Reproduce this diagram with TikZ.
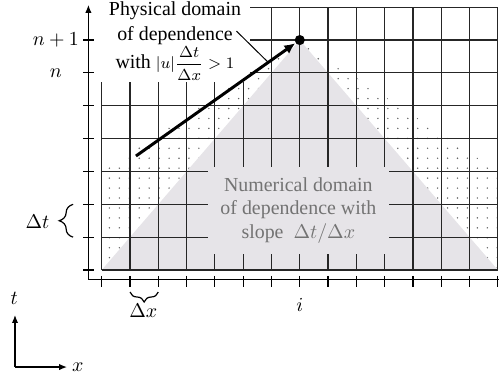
\documentclass[tikz,border=0pt]{standalone}
\usepackage{fontspec}
\setmainfont{Liberation Serif}
\usepackage{amsmath}
\usetikzlibrary{positioning, arrows.meta, patterns.meta, decorations.pathreplacing}
\definecolor{numgray}{RGB}{230,228,232}

\begin{document}
\begin{tikzpicture}[
        x=0.5cm, y=0.5805cm,
        >={Latex[length=4pt, width=3.2pt]},
        gridline/.style={line width=0.6pt, black!85},
        axisline/.style={line width=0.6pt},
        brace/.style={decorate, decoration={brace, amplitude=#1}, line width=0.6pt},
        brace/.default=6pt,
        physarrow/.style={line width=1.5pt, -{Latex[length=5.5pt, width=5pt]}},
        physbox/.style={fill=white, inner sep=0pt, minimum width=2.65cm, minimum height=1.45cm, align=center, font=\fontsize{10}{12.5}\selectfont},
        numbox/.style={fill=numgray, inner sep=0pt, minimum width=3.2cm, minimum height=1.54cm, align=center, text=black!55, font=\fontsize{10}{12}\selectfont}
    ]
        \useasboundingbox (-3.594,-3.257) rectangle (14.04,8.219);

        % domains
        \fill[pattern={Dots[distance=5pt, radius=0.4pt]}, pattern color=black!60] (0,0) -- (0,3) -- (7,7) -- (14,3) -- (14,0) -- cycle;
        \fill[numgray] (0,0) -- (7,7) -- (14,0) -- cycle;

        % mesh
        \foreach \k in {0,...,14} \draw[gridline] (\k,0) -- (\k,8);
        \foreach \j in {0,...,8} \draw[gridline] (0,\j) -- (14,\j);

        % axes
        \coordinate (corner) at (-0.47,-0.3);
        \coordinate (ttop) at (-0.47,8.07);
        \coordinate (xright) at (14.04,-0.3);
        \draw[axisline, ->] (corner) -- (ttop);
        \draw[axisline] (corner) -- (xright);
        \foreach \j in {0,...,7} \draw[axisline] (-0.66,\j) -- (-0.27,\j);
        \foreach \k in {0,...,14} \draw[axisline] (\k,-0.18) -- (\k,-0.52);

        \node (np1) at (-1.62,7) {$n+1$};
        \node (n) at (-1.62,6) {$n$};
        \node (icol) at (7,-1.06) {$i$};

        % cell sizes
        \draw[brace=7pt] (-1.01,1) -- (-1.01,2);
        \node (dt) at (-2.27,1.47) {$\Delta t$};
        \draw[brace=5pt] (2,-0.67) -- (1,-0.67);
        \node (dx) at (1.47,-1.25) {$\Delta x$};

        % text boxes
        \node[numbox] (numdom) at (6.95,1.81) {Numerical domain\\of dependence with\\slope\enspace$\Delta t/\Delta x$};
        \node[physbox] (physdom) at (2.59,6.97) {Physical domain\\of dependence\\with {\footnotesize$|u|\dfrac{\Delta t}{\Delta x}>1$}};

        % characteristic
        \node[circle, fill, inner sep=1.8pt] (apex) at (7,7) {};
        \coordinate (pstart) at (1.21,3.47);
        \draw[physarrow] (pstart) -- (apex) coordinate[pos=0.83] (pmid);
        \draw[line width=0.5pt] ([xshift=-7pt, yshift=5pt]physdom.east) -- (pmid);

        % orientation
        \coordinate (orig) at (-3.064,-2.953);
        \coordinate (tend) at (-3.064,-1.37);
        \coordinate (xend) at (-1.226,-2.953);
        \draw[axisline, ->] (orig) -- (tend);
        \draw[axisline, ->] (orig) -- (xend);
        \node (tname) at (-3.09,-0.85) {$t$};
        \node (xname) at (-0.84,-2.953) {$x$};
    \end{tikzpicture}
\end{document}
